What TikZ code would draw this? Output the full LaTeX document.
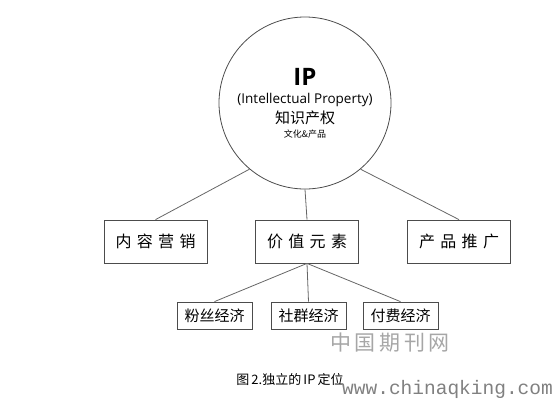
\documentclass[tikz,border=0pt]{standalone}
\usepackage{fontspec}
\setmainfont{Noto Sans CJK SC}
\newfontfamily\latinfont{Open Sans}
\newfontfamily\monofont{Liberation Mono}
\usetikzlibrary{positioning}

\begin{document}
\begin{tikzpicture}[x=1pt, y=-1pt,
  box/.style={draw=black!70, line width=0.8pt, minimum height=43pt, minimum width=103pt, font=\fontsize{16}{18}\selectfont, inner sep=0pt},
  subbox/.style={draw=black!70, line width=0.8pt, minimum height=27pt, minimum width=75pt, inner sep=2pt, font=\fontsize{15}{17}\selectfont},
  link/.style={draw=black!60, line width=0.8pt}]
\useasboundingbox (0,0) rectangle (556,402);
\node (IP) [draw=black!70, line width=0.8pt, circle, minimum size=172pt] at (305,103) {};
\node (IPt) at (305,77) {\latinfont\bfseries\fontsize{24}{26}\selectfont IP};
\node (IPen) at (305,100) {\latinfont\fontsize{13.5}{15}\selectfont (Intellectual Property)};
\node (IPcn) at (305,118) {\fontsize{15}{17}\selectfont 知识产权};
\node (IPsub) at (305,134) {\fontsize{9}{10}\selectfont 文化\&产品};
\node (M) [box] at (155.5,241.5) {内\,\,容\,\,营\,\,销};
\node (V) [box] at (307,241.5) {价\,\,值\,\,元\,\,素};
\node (P) [box] at (459,241.5) {产\,\,品\,\,推\,\,广};
\node (F) [subbox] at (214.5,315.5) {粉丝经济};
\node (C) [subbox] at (308.5,315.5) {社群经济};
\node (Pay) [subbox] at (400.5,315.5) {付费经济};
\draw[link] (IP.230) -- (M.north);
\draw[link] (IP.south) -- (V.north);
\draw[link] (IP.310) -- (P.north);
\draw[link] (V.south) -- (F.north);
\draw[link] (V.south) -- (C.north);
\draw[link] (V.south) -- (Pay.north);
% caption and watermarks
\node (cap) at (290,380) {\fontsize{13}{15}\selectfont 图\,2.独立的\,IP\,定位};
\node (wm) [text=black!35] at (390,343) {\fontsize{21}{24}\selectfont 中\,国\,期\,刊\,网};
\node (wm2) [text=black!50, anchor=west, inner sep=0pt] at (342,389) {\monofont\fontsize{19.5}{22}\selectfont www.chinaqking.com};
\end{tikzpicture}
\end{document}
